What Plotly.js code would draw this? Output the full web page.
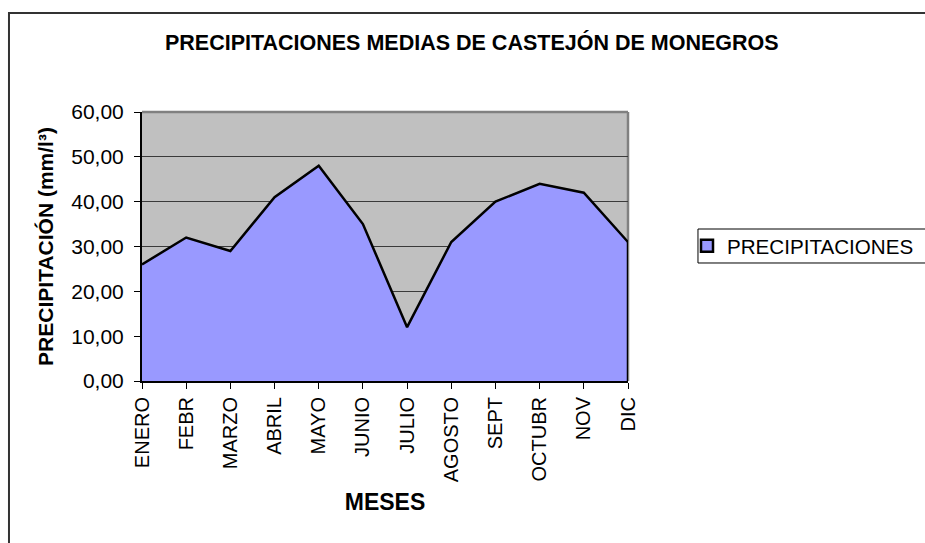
<!DOCTYPE html>
<html>
<head>
<meta charset="utf-8">
<script src="https://cdn.plot.ly/plotly-3.0.1.min.js"></script>
<style>html,body{margin:0;padding:0;background:#fff;}#chart{width:925px;height:543px;}</style>
</head>
<body>
<div id="chart"></div>
<script>
const months = ["ENERO","FEBR","MARZO","ABRIL","MAYO","JUNIO","JULIO","AGOSTO","SEPT","OCTUBR","NOV","DIC"];
const precip = [26, 32, 29, 41, 48, 35, 12, 31, 40, 44, 42, 31];
const yTicks = [0, 10, 20, 30, 40, 50, 60];
const seriesName = "PRECIPITACIONES";

const FONT = "Arial, 'Liberation Sans', sans-serif";
const last = months.length - 1;

const area = {
  type: "scatter",
  mode: "lines",
  x: months,
  y: precip,
  name: seriesName,
  fill: "tozeroy",
  fillcolor: "#9999FF",
  line: {color: "#000000", width: 2.5},
  showlegend: false,
  hoverinfo: "x+y"
};

// legend entry only (square swatch like the original)
const legendSwatch = {
  type: "scatter",
  mode: "markers",
  x: [null],
  y: [null],
  name: seriesName,
  marker: {symbol: "square", size: 12, color: "#9999FF", line: {color: "#000", width: 2.5}},
  showlegend: true,
  hoverinfo: "skip"
};

const layout = {
  width: 925,
  height: 543,
  margin: {l: 142, r: 297, t: 112, b: 162, autoexpand: false},
  paper_bgcolor: "#FFFFFF",
  plot_bgcolor: "#C0C0C0",
  font: {family: FONT, color: "#000000", size: 20},
  separators: ",.",
  title: {
    text: "<b>PRECIPITACIONES MEDIAS DE CASTEJÓN DE MONEGROS</b>",
    font: {family: FONT, size: 21.5, color: "#000"},
    x: 0.51, xref: "container", xanchor: "center",
    y: 0.922, yref: "container", yanchor: "middle"
  },
  xaxis: {
    type: "category",
    range: [0, last],
    tickangle: -90,
    ticks: "outside",
    ticklen: 6,
    tickcolor: "#000",
    tickwidth: 1,
    showline: true,
    linecolor: "#000",
    linewidth: 2,
    showgrid: false,
    zeroline: false,
    tickfont: {family: FONT, size: 20, color: "#000"},
    title: {text: "<b>MESES</b>", font: {family: FONT, size: 23, color: "#000"}, standoff: 13}
  },
  yaxis: {
    range: [0, 60],
    tickmode: "array",
    tickvals: yTicks,
    tickformat: ".2f",
    ticks: "outside",
    ticklen: 6,
    tickcolor: "#000",
    ticklabelstandoff: 6,
    showline: true,
    linecolor: "#000",
    linewidth: 2,
    showgrid: true,
    gridcolor: "#3a3a3a",
    gridwidth: 1,
    zeroline: false,
    tickfont: {family: FONT, size: 21, color: "#000"},
    title: {text: "<b>PRECIPITACIÓN (mm/l³)</b>", font: {family: FONT, size: 21, color: "#000"}, standoff: 12}
  },
  showlegend: true,
  legend: {
    x: 1.1214, xanchor: "left",
    y: 0.502, yanchor: "middle",
    borderwidth: 0,
    bgcolor: "rgba(0,0,0,0)",
    font: {family: FONT, size: 20.6, color: "#000"},
    itemwidth: 30
  },
  shapes: [
    {type: "line", xref: "paper", yref: "paper", x0: 0, x1: 1, y0: 1, y1: 1, line: {color: "#808080", width: 2.5}, layer: "below"},
    {type: "line", xref: "paper", yref: "paper", x0: 1, x1: 1, y0: 0, y1: 1, line: {color: "#808080", width: 2.5}, layer: "below"},
    {type: "line", xref: "x", yref: "y", x0: last, x1: last, y0: 0, y1: precip[last], line: {color: "#000", width: 2.5}},
    {type: "rect", xref: "paper", yref: "paper", x0: 1.144, x1: 1.65, y0: 0.4387, y1: 0.565, line: {color: "#000", width: 1}, fillcolor: "rgba(0,0,0,0)"},
    {type: "rect", xref: "paper", yref: "paper", x0: -0.2737, x1: 1.7, y0: -0.7, y1: 1.368, line: {color: "#333", width: 2}, fillcolor: "rgba(0,0,0,0)"}
  ]
};

Plotly.newPlot("chart", [area, legendSwatch], layout, {displayModeBar: false, staticPlot: true});
</script>
</body>
</html>
